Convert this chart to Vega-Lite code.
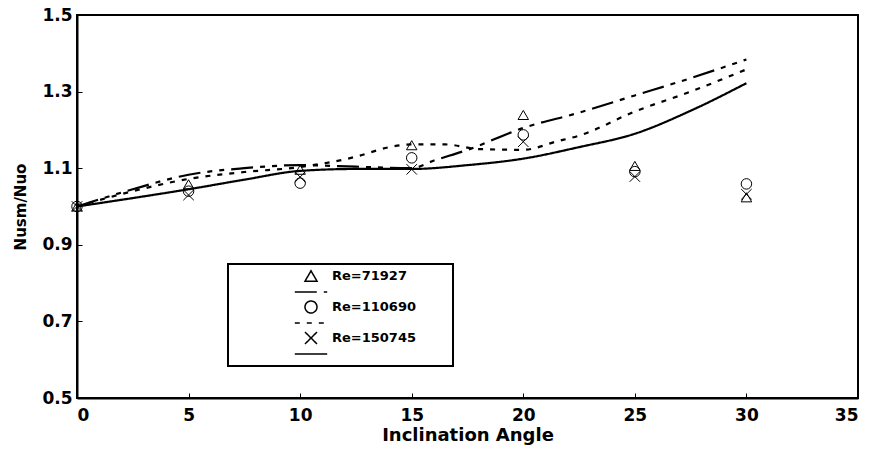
{
  "$schema": "https://vega.github.io/schema/vega-lite/v6.json",
  "width": 781,
  "height": 383,
  "autosize": {"type": "none"},
  "padding": {"left": 77, "top": 15, "right": 12, "bottom": 64},
  "background": "white",
  "config": {
    "font": "DejaVu Sans",
    "view": {"stroke": "black", "strokeWidth": 2},
    "legend": {"strokeWidth": 2},
    "axis": {
      "grid": false,
      "domainColor": "black",
      "domainWidth": 2,
      "tickColor": "black",
      "tickSize": -5,
      "tickWidth": 1,
      "labelFont": "DejaVu Sans",
      "labelFontWeight": "bold",
      "labelFontSize": 17,
      "labelColor": "black",
      "titleFont": "DejaVu Sans",
      "titleFontWeight": "bold",
      "titleColor": "black"
    }
  },
  "datasets": {
    "curves": [
      {"series": "Re=71927 fit", "angle": 0, "value": 1.0},
      {"series": "Re=71927 fit", "angle": 2.5, "value": 1.045},
      {"series": "Re=71927 fit", "angle": 5, "value": 1.083},
      {"series": "Re=71927 fit", "angle": 7.5, "value": 1.1},
      {"series": "Re=71927 fit", "angle": 10, "value": 1.108},
      {"series": "Re=71927 fit", "angle": 12.5, "value": 1.104},
      {"series": "Re=71927 fit", "angle": 15, "value": 1.1},
      {"series": "Re=71927 fit", "angle": 16, "value": 1.12},
      {"series": "Re=71927 fit", "angle": 17.5, "value": 1.148},
      {"series": "Re=71927 fit", "angle": 20, "value": 1.205},
      {"series": "Re=71927 fit", "angle": 22.5, "value": 1.245},
      {"series": "Re=71927 fit", "angle": 25, "value": 1.29},
      {"series": "Re=71927 fit", "angle": 27.5, "value": 1.335},
      {"series": "Re=71927 fit", "angle": 30, "value": 1.384},
      {"series": "Re=110690 fit", "angle": 0, "value": 1.0},
      {"series": "Re=110690 fit", "angle": 2.5, "value": 1.04},
      {"series": "Re=110690 fit", "angle": 5, "value": 1.072},
      {"series": "Re=110690 fit", "angle": 7.5, "value": 1.09},
      {"series": "Re=110690 fit", "angle": 10, "value": 1.103},
      {"series": "Re=110690 fit", "angle": 12.5, "value": 1.13},
      {"series": "Re=110690 fit", "angle": 14, "value": 1.155},
      {"series": "Re=110690 fit", "angle": 15, "value": 1.162},
      {"series": "Re=110690 fit", "angle": 16.5, "value": 1.162},
      {"series": "Re=110690 fit", "angle": 18, "value": 1.15},
      {"series": "Re=110690 fit", "angle": 20, "value": 1.148},
      {"series": "Re=110690 fit", "angle": 21.5, "value": 1.17},
      {"series": "Re=110690 fit", "angle": 22.5, "value": 1.185},
      {"series": "Re=110690 fit", "angle": 25, "value": 1.248},
      {"series": "Re=110690 fit", "angle": 27.5, "value": 1.3},
      {"series": "Re=110690 fit", "angle": 30, "value": 1.358},
      {"series": "Re=150745 fit", "angle": 0, "value": 1.0},
      {"series": "Re=150745 fit", "angle": 2.5, "value": 1.022},
      {"series": "Re=150745 fit", "angle": 5, "value": 1.045},
      {"series": "Re=150745 fit", "angle": 7.5, "value": 1.07},
      {"series": "Re=150745 fit", "angle": 10, "value": 1.093},
      {"series": "Re=150745 fit", "angle": 12.5, "value": 1.098},
      {"series": "Re=150745 fit", "angle": 15, "value": 1.098},
      {"series": "Re=150745 fit", "angle": 17.5, "value": 1.108},
      {"series": "Re=150745 fit", "angle": 20, "value": 1.125},
      {"series": "Re=150745 fit", "angle": 22.5, "value": 1.155},
      {"series": "Re=150745 fit", "angle": 25, "value": 1.19},
      {"series": "Re=150745 fit", "angle": 27.5, "value": 1.25},
      {"series": "Re=150745 fit", "angle": 30, "value": 1.322}
    ],
    "points": [
      {"series": "Re=71927", "angle": 0, "value": 1.0},
      {"series": "Re=71927", "angle": 5, "value": 1.058},
      {"series": "Re=71927", "angle": 10, "value": 1.096},
      {"series": "Re=71927", "angle": 15, "value": 1.16},
      {"series": "Re=71927", "angle": 20, "value": 1.239},
      {"series": "Re=71927", "angle": 25, "value": 1.106},
      {"series": "Re=71927", "angle": 30, "value": 1.024},
      {"series": "Re=110690", "angle": 0, "value": 1.0},
      {"series": "Re=110690", "angle": 5, "value": 1.04},
      {"series": "Re=110690", "angle": 10, "value": 1.061},
      {"series": "Re=110690", "angle": 15, "value": 1.127},
      {"series": "Re=110690", "angle": 20, "value": 1.187},
      {"series": "Re=110690", "angle": 25, "value": 1.091},
      {"series": "Re=110690", "angle": 30, "value": 1.059},
      {"series": "Re=150745", "angle": 0, "value": 1.0},
      {"series": "Re=150745", "angle": 5, "value": 1.03},
      {"series": "Re=150745", "angle": 10, "value": 1.077},
      {"series": "Re=150745", "angle": 15, "value": 1.097},
      {"series": "Re=150745", "angle": 20, "value": 1.169},
      {"series": "Re=150745", "angle": 25, "value": 1.078},
      {"series": "Re=150745", "angle": 30, "value": 1.032}
    ]
  },
  "encoding": {
    "x": {
      "field": "angle",
      "type": "quantitative",
      "scale": {"domain": [0, 35], "nice": false},
      "axis": {
        "values": [0, 5, 10, 15, 20, 25, 30, 35],
        "title": "Inclination Angle",
        "titleFontSize": 18,
        "labelPadding": 14,
        "titlePadding": 3
      }
    },
    "y": {
      "field": "value",
      "type": "quantitative",
      "scale": {"domain": [0.5, 1.5], "nice": false, "zero": false},
      "axis": {
        "values": [0.5, 0.7, 0.9, 1.1, 1.3, 1.5],
        "format": ".1f",
        "title": "Nusm/Nuo",
        "titleFontSize": 15,
        "labelPadding": 10,
        "titlePadding": 13
      }
    }
  },
  "layer": [
    {
      "data": {"name": "curves"},
      "mark": {"type": "line", "interpolate": "monotone", "color": "black", "strokeWidth": 2.2},
      "encoding": {
        "strokeDash": {
          "field": "series",
          "type": "nominal",
          "scale": {
            "domain": ["Re=71927", "Re=71927 fit", "Re=110690", "Re=110690 fit", "Re=150745", "Re=150745 fit"],
            "range": [[1, 0], [22, 7, 5, 7, 5, 7], [1, 0], [5, 7], [1, 0], [1, 0]]
          },
          "legend": {
            "orient": "none",
            "legendX": 151,
            "legendY": 249,
            "title": "Re=",
            "titleOrient": "right",
            "titleOpacity": 0,
            "titleFontSize": 13,
            "titlePadding": 2,
            "strokeColor": "black",
            "padding": 5,
            "symbolSize": 144,
            "symbolOffset": 71,
            "symbolStrokeColor": "black",
            "symbolFillColor": "transparent",
            "symbolStrokeWidth": 1.5,
            "labelFont": "DejaVu Sans",
            "labelFontWeight": "bold",
            "labelFontSize": 13,
            "labelColor": "black",
            "labelOffset": 14,
            "rowPadding": -1,
            "labelExpr": "indexof(datum.label, 'fit') < 0 ? datum.label : ''"
          }
        }
      }
    },
    {
      "data": {"name": "points"},
      "mark": {"type": "point", "filled": false, "color": "black", "strokeWidth": 1, "size": 110, "opacity": 1},
      "encoding": {
        "shape": {
          "field": "series",
          "type": "nominal",
          "scale": {
            "domain": ["Re=71927", "Re=71927 fit", "Re=110690", "Re=110690 fit", "Re=150745", "Re=150745 fit"],
            "range": ["triangle-up", "M-2.7,0H2.7", "circle", "M-2.7,0H2.7", "M-1,-1L1,1M-1,1L1,-1", "M-2.7,0H2.7"]
          },
          "legend": {
            "orient": "none",
            "legendX": 151,
            "legendY": 249,
            "title": "Re=",
            "titleOrient": "right",
            "titleOpacity": 0,
            "titleFontSize": 13,
            "titlePadding": 2,
            "strokeColor": "black",
            "padding": 5,
            "symbolSize": 144,
            "symbolOffset": 71,
            "symbolStrokeColor": "black",
            "symbolFillColor": "transparent",
            "symbolStrokeWidth": 1.5,
            "labelFont": "DejaVu Sans",
            "labelFontWeight": "bold",
            "labelFontSize": 13,
            "labelColor": "black",
            "labelOffset": 14,
            "rowPadding": -1,
            "labelExpr": "indexof(datum.label, 'fit') < 0 ? datum.label : ''"
          }
        }
      }
    }
  ]
}
